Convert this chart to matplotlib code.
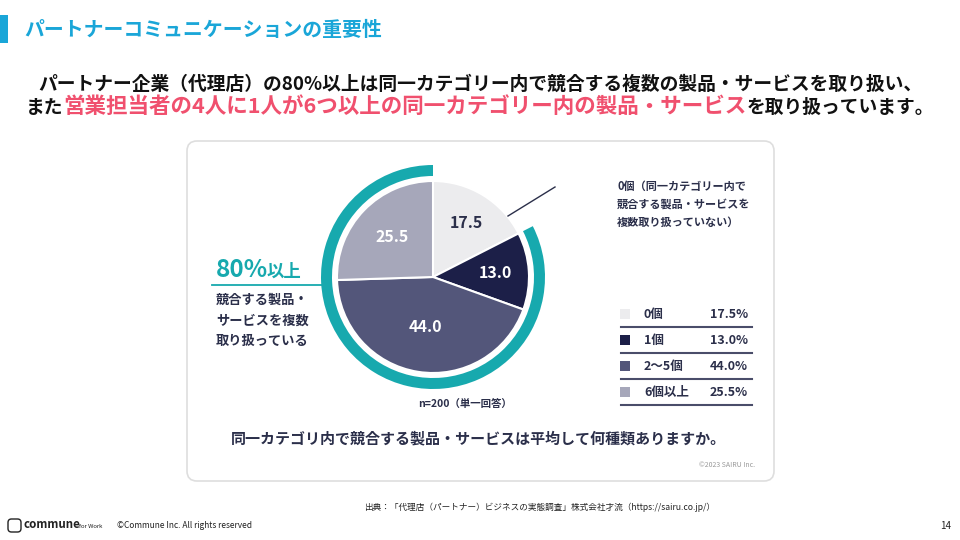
import numpy as np
import matplotlib.pyplot as plt
from matplotlib.patches import Wedge, FancyBboxPatch, Rectangle

plt.rcParams['font.family'] = ['Noto Sans CJK JP', 'DejaVu Sans']

# data
categories = ["0個", "1個", "2〜5個", "6個以上"]
shares = [17.5, 13.0, 44.0, 25.5]
slice_colors = ["#ececee", "#1c1f48", "#53567a", "#a6a7ba"]
label_colors = ["#2b2f4a", "white", "white", "white"]
label_dist = [0.66, 0.65, 0.53, 0.60]

TEAL = "#17a9ae"
NAVY = "#2b2f4a"
RED = "#f0506e"

W, H = 960, 540
fig = plt.figure(figsize=(9.6, 5.4), dpi=100)
ax = fig.add_axes([0, 0, 1, 1])


def Y(y):
    return H - y


# title bar
ax.add_patch(Rectangle((0, Y(43)), 8, 28, color="#1aa6d8", lw=0))
ax.text(24, Y(29), "パートナーコミュニケーションの重要性", color="#1aa6d8",
        fontsize=14.3, fontweight="bold", va="center")

# subtitle, second line mixes colours and sizes
ax.text(480, Y(84), "パートナー企業（代理店）の80%以上は同一カテゴリー内で競合する複数の製品・サービスを取り扱い、",
        fontsize=13.5, fontweight="bold", ha="center", va="center", color="#111111")

parts = [("また", "#111111", 13.5),
         ("営業担当者の4人に1人が6つ以上の同一カテゴリー内の製品・サービス", RED, 15.5),
         ("を取り扱っています。", "#111111", 13.5)]
renderer = fig.canvas.get_renderer()
texts = []
for s, c, fs in parts:
    t = ax.text(0, Y(113), s, fontsize=fs, fontweight="bold", va="baseline", color=c)
    texts.append(t)
widths = [t.get_window_extent(renderer).width for t in texts]
x = 480 - sum(widths) / 2
for t, w in zip(texts, widths):
    t.set_x(x)
    x += w

# card
ax.add_patch(FancyBboxPatch((187, Y(481)), 587, 340, boxstyle="round,pad=0,rounding_size=10",
                            facecolor="white", edgecolor="#dedede", lw=1.2))

# pie
cx, cy, r = 433, Y(277), 96
wedges, _ = ax.pie(shares, colors=slice_colors, startangle=90, counterclock=False,
                   center=(cx, cy), radius=r, frame=True,
                   wedgeprops=dict(edgecolor="white", linewidth=1.5))
for w, v, col, d in zip(wedges, shares, label_colors, label_dist):
    mid = np.deg2rad((w.theta1 + w.theta2) / 2)
    ax.text(cx + d * r * np.cos(mid), cy + d * r * np.sin(mid), f"{v:.1f}",
            color=col, fontsize=11.5, fontweight="bold", ha="center", va="center")

# teal ring over the 80%+ share
ax.add_patch(Wedge((cx, cy), 112, 90, wedges[0].theta1 + 360, width=11,
                   facecolor=TEAL, edgecolor="none"))

# left callout
ax.text(216, Y(270), "80%", color=TEAL, fontsize=17.5, fontweight="bold", va="center")
ax.text(267, Y(272), "以上", color=TEAL, fontsize=12.5, fontweight="bold", va="center")
ax.plot([212, 325], [Y(285), Y(285)], color=TEAL, lw=1.3)
for i, s in enumerate(["競合する製品・", "サービスを複数", "取り扱っている"]):
    ax.text(216, Y(300 + 20.5 * i), s, color=NAVY, fontsize=9.5, fontweight="bold", va="center")

# annotation for 0個
ax.plot([508, 555], [Y(216), Y(187)], color=NAVY, lw=1)
for i, s in enumerate(["0個（同一カテゴリー内で", "競合する製品・サービスを", "複数取り扱っていない）"]):
    ax.text(617, Y(186 + 18 * i), s, color=NAVY, fontsize=8, fontweight="bold", va="center")

# legend table
for i, (cat, v, col) in enumerate(zip(categories, shares, slice_colors)):
    yy = 314 + 26 * i
    ax.add_patch(Rectangle((620, Y(yy + 5)), 10, 10, color=col, lw=0))
    ax.text(644, Y(yy), cat, color=NAVY, fontsize=9, fontweight="bold", va="center")
    ax.text(748, Y(yy), f"{v:.1f}%", color=NAVY, fontsize=9, fontweight="bold",
            va="center", ha="right")
    ax.plot([621, 752], [Y(yy + 12.5), Y(yy + 12.5)], color="#4a4d6a", lw=1.5)

ax.text(465, Y(405), "n=200（単一回答）", color=NAVY, fontsize=7.5, fontweight="bold",
        ha="center", va="center")
ax.text(478, Y(438), "同一カテゴリ内で競合する製品・サービスは平均して何種類ありますか。",
        color=NAVY, fontsize=10.8, fontweight="bold", ha="center", va="center")
ax.text(755, Y(465), "©2023 SAIRU Inc.", color="#999999", fontsize=5, ha="right", va="center")

# footer
ax.text(540, Y(507), "出典：「代理店（パートナー）ビジネスの実態調査」株式会社才流（https://sairu.co.jp/）",
        color="#222222", fontsize=6.2, ha="center", va="center")
ax.add_patch(FancyBboxPatch((8, Y(532)), 13, 13, boxstyle="round,pad=0,rounding_size=3.5",
                            facecolor="white", edgecolor="#222222", lw=1))
ax.text(23, Y(525), "commune", color="#222222", fontsize=8.3, fontweight="bold", va="center")
ax.text(79, Y(526), "for Work", color="#222222", fontsize=4.3, va="center")
ax.text(117, Y(525), "©Commune Inc. All rights reserved", color="#222222", fontsize=6, va="center")
ax.text(946, Y(526), "14", color="#222222", fontsize=7, ha="center", va="center")

ax.set_xlim(0, W)
ax.set_ylim(0, H)
ax.set_aspect("auto")
ax.axis("off")

fig.savefig("out.png", dpi=100, facecolor="white")
